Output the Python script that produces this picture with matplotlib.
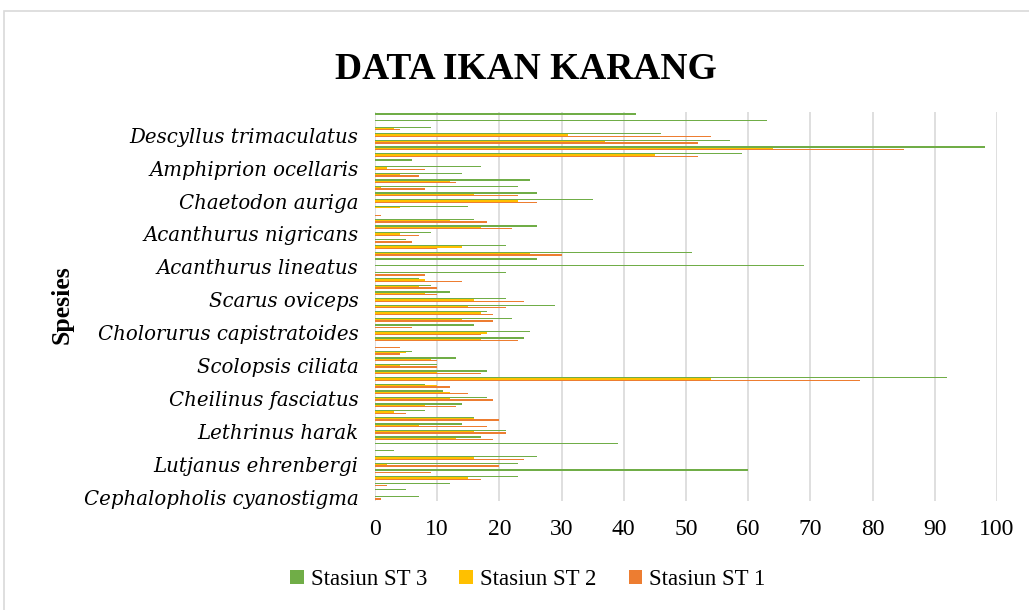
import matplotlib.pyplot as plt
import numpy as np
from matplotlib.patches import Rectangle

# species shown on the axis (every 5th category, bottom to top)
label_species = [
    'Cephalopholis cyanostigma', 'Lutjanus ehrenbergi', 'Lethrinus harak',
    'Cheilinus fasciatus', 'Scolopsis ciliata', 'Cholorurus capistratoides',
    'Scarus oviceps', 'Acanthurus lineatus', 'Acanthurus nigricans',
    'Chaetodon auriga', 'Amphiprion ocellaris', 'Descyllus trimaculatus',
]

# counts per species, listed top to bottom
st3 = [42, 63, 9, 46, 57, 98, 59, 6, 17, 14,
       25, 23, 26, 35, 15, 0, 16, 26, 9, 5,
       21, 51, 26, 69, 21, 7, 9, 12, 21, 29,
       18, 22, 16, 25, 24, 0, 6, 13, 10, 18,
       92, 8, 11, 18, 14, 8, 16, 14, 21, 17,
       39, 3, 26, 23, 60, 23, 12, 5, 7]
st2 = [0, 0, 3, 31, 37, 64, 45, 0, 2, 4,
       12, 1, 16, 23, 4, 0, 12, 17, 4, 0,
       14, 25, 0, 0, 0, 8, 7, 8, 16, 15,
       17, 14, 0, 18, 17, 0, 5, 9, 4, 10,
       54, 10, 12, 12, 8, 3, 16, 7, 16, 13,
       0, 0, 16, 2, 0, 15, 0, 0, 0]
st1 = [0, 0, 4, 54, 52, 85, 52, 0, 8, 7,
       13, 8, 23, 26, 0, 1, 18, 22, 7, 6,
       10, 30, 0, 0, 8, 14, 10, 10, 24, 21,
       19, 19, 6, 17, 23, 4, 4, 10, 10, 17,
       78, 12, 15, 19, 13, 5, 20, 18, 21, 19,
       0, 0, 24, 20, 9, 17, 2, 0, 1]

# excel draws the first category at the bottom
st3 = st3[::-1]
st2 = st2[::-1]
st1 = st1[::-1]
n = len(st3)
y = np.arange(n)
h = 0.2

fig = plt.figure(figsize=(10.29, 6.1), dpi=100)
ax = fig.add_axes([0.3644, 0.1787, 0.6045, 0.6377])

ax.barh(y + h, st3, height=h, color='#70AD47', label='Stasiun ST 3')
ax.barh(y, st2, height=h, color='#FFC000', label='Stasiun ST 2')
ax.barh(y - h, st1, height=h, color='#ED7D31', label='Stasiun ST 1')

ax.set_xlim(0, 100)
ax.set_ylim(-0.5, n - 0.5)
ax.set_xticks(range(0, 101, 10))
ax.set_yticks(range(0, n, 5))
ax.set_yticklabels(label_species, fontsize=14.2, fontstyle='italic', family='DejaVu Serif')
for t in ax.get_xticklabels():
    t.set_family('Liberation Serif')
    t.set_fontsize(17)
ax.tick_params(axis='x', length=0, pad=13)
ax.tick_params(axis='y', length=0, pad=12)
ax.grid(axis='x', color='#D9D9D9', linewidth=1.2)
ax.set_axisbelow(True)
for s in ax.spines.values():
    s.set_visible(False)

fig.text(0.511, 0.886, 'DATA IKAN KARANG', ha='center', va='center',
         family='Liberation Serif', fontsize=27, fontweight='bold')
fig.text(0.060, 0.50, 'Spesies', ha='center', va='center', rotation=90,
         family='Liberation Serif', fontsize=18.5, fontweight='bold')

handles, labels = ax.get_legend_handles_labels()
fig.legend(handles, labels, loc='center', bbox_to_anchor=(0.513, 0.050), ncol=3,
           frameon=False, prop={'family': 'Liberation Serif', 'size': 16.5},
           handlelength=0.6, handleheight=0.6, handletextpad=0.3, columnspacing=1.4)

fig.patches.append(Rectangle((4 / 1029, -0.01), 1.0, 1 - 11 / 610 + 0.01,
                             transform=fig.transFigure, fill=False,
                             edgecolor='#D9D9D9', linewidth=1.2))

plt.savefig('out.png', dpi=100)
